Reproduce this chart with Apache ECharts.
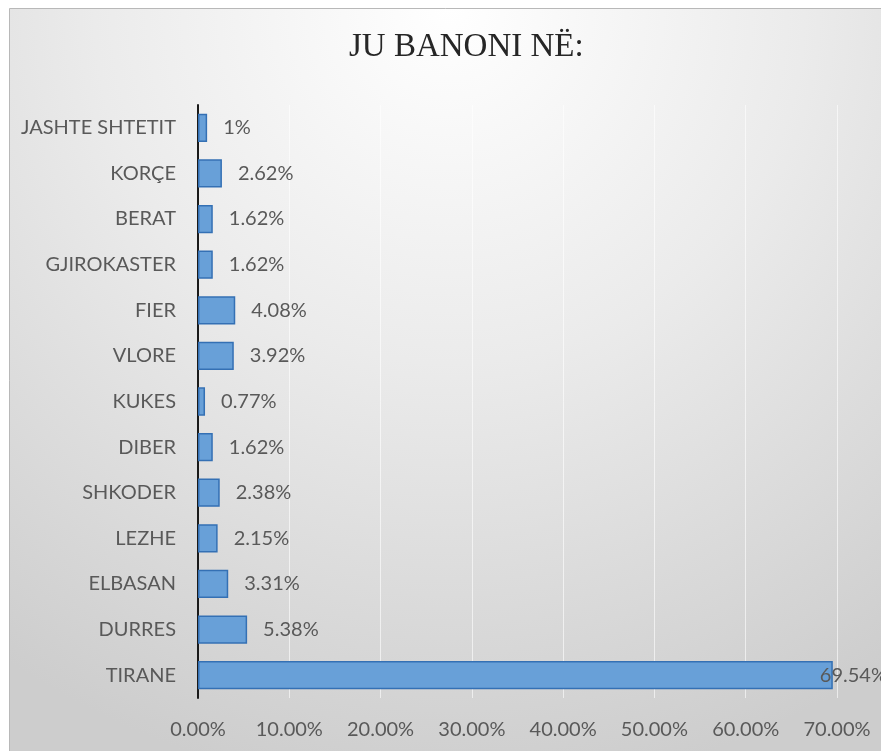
<!doctype html>
<html>
  <head>
    <meta charset="utf-8">
    <title>Ju banoni në</title>
    <script src="https://cdn.jsdelivr.net/npm/echarts@6/dist/echarts.min.js"></script>
    <style>
      html, body { margin: 0; padding: 0; background: #fff; }
      #chart { width: 881px; height: 751px; }
    </style>
  </head>
  <body>
    <div id="chart"></div>
    <script type="text/javascript">
      // qytetet, nga lart poshte
      var qytetet = ['JASHTE SHTETIT', 'KORÇE', 'BERAT', 'GJIROKASTER', 'FIER', 'VLORE',
        'KUKES', 'DIBER', 'SHKODER', 'LEZHE', 'ELBASAN', 'DURRES', 'TIRANE'];
      var perqindjet = [1, 2.62, 1.62, 1.62, 4.08, 3.92, 0.77, 1.62, 2.38, 2.15, 3.31, 5.38, 69.54];
      var xTicks = [0, 10, 20, 30, 40, 50, 60, 70];

      var myChart = echarts.init(document.getElementById('chart'));

      var seriesData = perqindjet.map(function (v, i) {
        var item = { value: v };
        // etiketa e Tiranes bie mbi fundin e shtyllës
        if (qytetet[i] === 'TIRANE') {
          item.label = { distance: -13 };
        }
        return item;
      });

      var option = {
        animation: false,
        textStyle: { fontFamily: 'Lato' },
        graphic: [
          {
            type: 'rect',
            z: -10,
            shape: { x: 9.5, y: 8.5, width: 880, height: 750 },
            style: {
              fill: {
                type: 'radial', x: 0.5, y: 0, r: 1.05,
                colorStops: [
                  { offset: 0, color: '#ffffff' },
                  { offset: 0.45, color: '#ebebeb' },
                  { offset: 1, color: '#cdcdcd' }
                ]
              },
              stroke: '#b8b8b8',
              lineWidth: 1
            }
          }
        ],
        title: {
          text: 'JU BANONI NË:',
          left: 344,
          top: 26,
          textStyle: {
            fontFamily: 'Liberation Serif',
            fontWeight: 'normal',
            fontSize: 33,
            color: '#262626'
          }
        },
        grid: {
          left: 198,
          right: 44,
          top: 105,
          bottom: 53,
          containLabel: false
        },
        xAxis: {
          type: 'value',
          min: xTicks[0],
          max: xTicks[xTicks.length - 1],
          interval: 10,
          axisLine: { show: false },
          axisTick: { show: false },
          axisLabel: {
            margin: 22,
            fontSize: 20,
            color: '#595959',
            formatter: function (v) { return v.toFixed(2) + '%'; }
          },
          splitLine: { lineStyle: { color: 'rgba(255,255,255,0.6)', width: 1 } }
        },
        yAxis: {
          type: 'category',
          inverse: true,
          data: qytetet,
          axisLine: { lineStyle: { color: '#1a1a1a', width: 2 } },
          axisTick: { show: false },
          axisLabel: { margin: 22, fontSize: 20, color: '#595959' }
        },
        series: [
          {
            type: 'bar',
            data: seriesData,
            barCategoryGap: '38%',
            itemStyle: {
              color: '#68a0d8',
              borderColor: '#3470b4',
              borderWidth: 1.5
            },
            label: {
              show: true,
              position: 'right',
              distance: 16,
              fontSize: 20,
              color: '#595959',
              formatter: function (p) { return p.value + '%'; }
            }
          }
        ]
      };
      myChart.setOption(option);
    </script>
  </body>
</html>
